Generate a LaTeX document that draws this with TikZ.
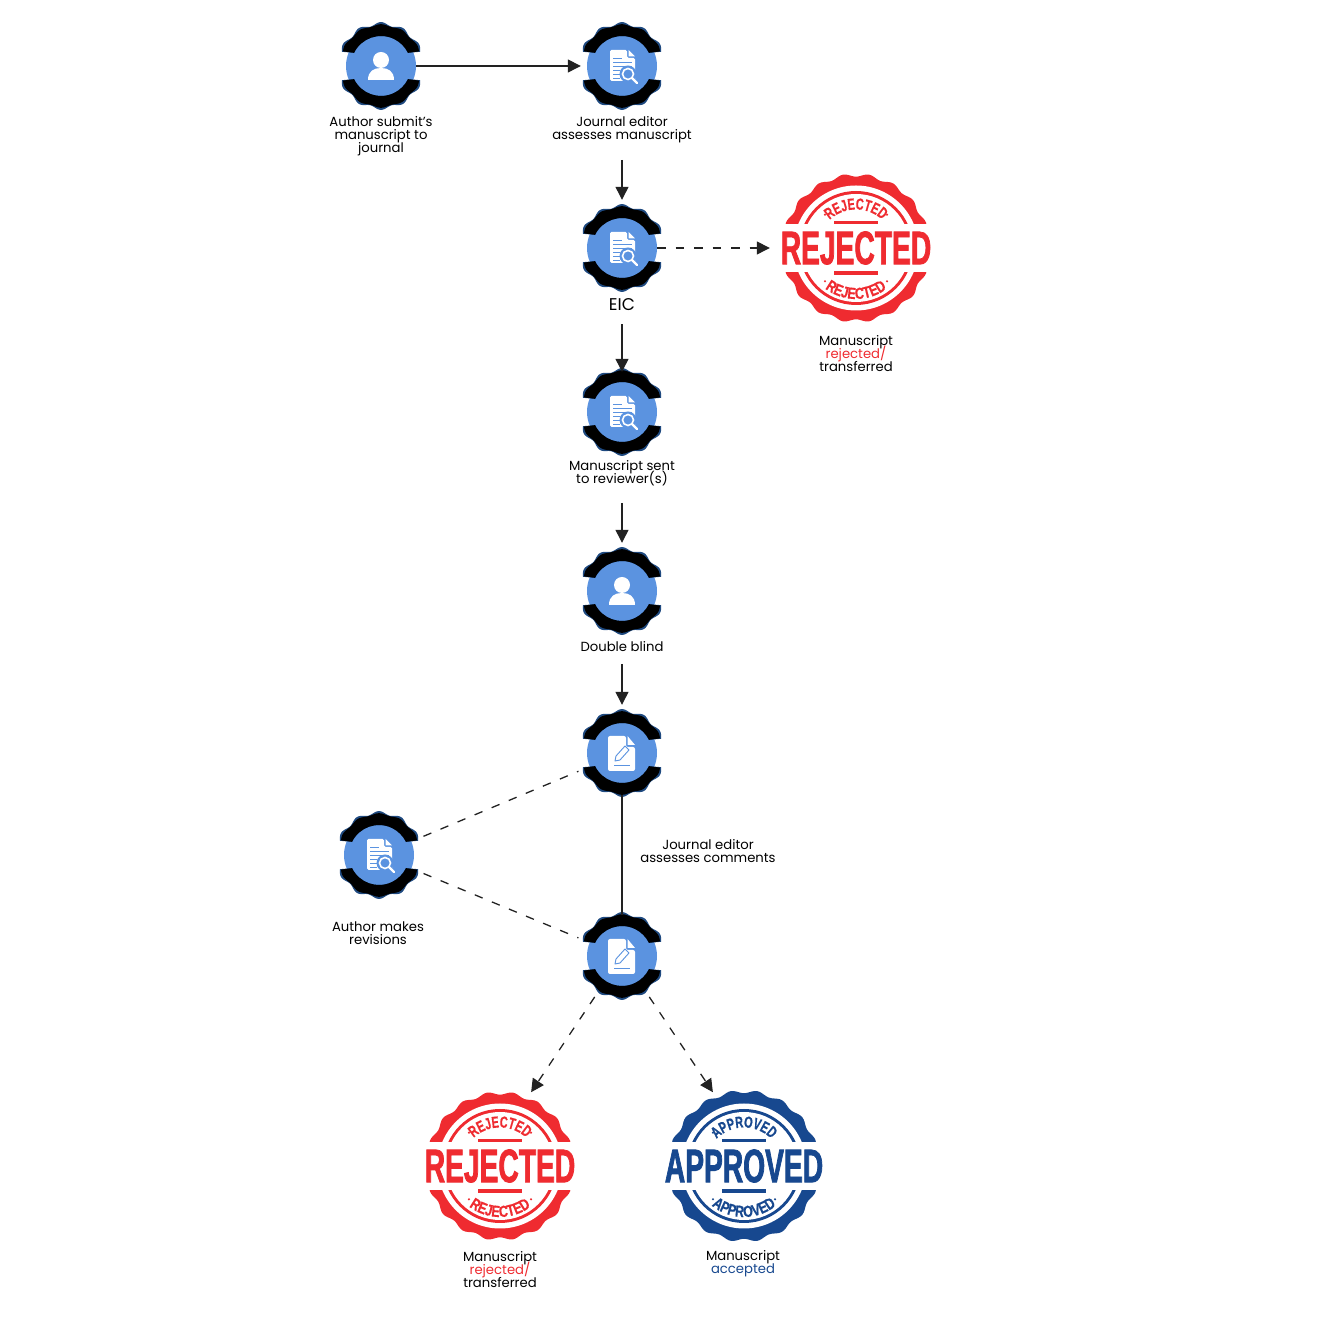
\documentclass[tikz,border=0pt]{standalone}
\usepackage{fontspec}
\usepackage{tikz}
\usetikzlibrary{arrows.meta,decorations.text}

\setmainfont{Poppins}
\newfontfamily\stampfont[FakeStretch=0.6,FakeBold=1.5]{Liberation Sans}
\newfontfamily\stamparc[FakeStretch=0.68,FakeBold=0.5]{Liberation Sans}
\newfontfamily\stamparcb[FakeStretch=0.78,FakeBold=0.5]{Liberation Sans}

\definecolor{badgeblue}{HTML}{5B93E0}
\definecolor{gearnavy}{HTML}{1F4A80}
\definecolor{stampred}{HTML}{EF2B30}
\definecolor{stampblue}{HTML}{17488F}
\definecolor{linegrey}{HTML}{222222}

\lineskiplimit=-20pt

\begin{document}
\begin{tikzpicture}[
  x=1pt,
  y=1pt,
  badge/.style={
      circle,
      fill=badgeblue,
      inner sep=0pt,
      minimum size=70pt
  },
  sealnode/.style={
      circle,
      inner sep=0pt,
      minimum size=148pt
  },
  caption/.style={
      align=center,
      inner sep=0pt,
      font=\fontsize{13.2}{13}\selectfont
  },
  arrow/.style={
      -{Triangle[length=13pt,width=13pt]},
      line width=1.3pt,
      draw=linegrey
  },
  dashline/.style={
      line width=1.3pt,
      draw=linegrey,
      dash pattern=on 8.5pt off 10pt
  },
  pics/gear/.style={
      code={
          \foreach \s in {1,-1} {
              \begin{scope}[yscale=\s]
                  \fill[gearnavy] plot[domain=20:160,samples=71]
                        (\x:{42.3+1.6*cos(12*(\x-90))})
                        -- (154:30) arc[start angle=154, end angle=26, radius=30]
                        -- cycle;
                  \fill[black] plot[domain=21:159,samples=70]
                        (\x:{41+0.8*cos(12*(\x-90))})
                        -- (154:30) arc[start angle=154, end angle=26, radius=30]
                        -- cycle;
              \end{scope}
          }
      }
  },
  pics/personicon/.style={
      code={
          \fill[white] (0,6) circle (8);
          \fill[white] (-13,-14) .. controls (-13,-5) and (-7,-2) .. (0,-2)
                .. controls (7,-2) and (13,-5) .. (13,-14) -- cycle;
      }
  },
  pics/searchicon/.style={
      code={
          \fill[white, rounded corners=1.5pt] (-12,-15) -- (-12,16) -- (5,16)
                -- (5,8) -- (13,8) -- (13,-15) -- cycle;
          \fill[white] (6.5,16) -- (13,9.5) -- (6.5,9.5) -- cycle;
          \foreach \y/\w in {8/9,4/19,0/19,-4/7,-8/7,-12/7} {
              \draw[badgeblue, line width=0.9pt] (-9,\y) -- ++(\w,0);
          }
          \fill[badgeblue] (6,-8) circle (8.5);
          \draw[white, line width=1.6pt] (6,-8) circle (5.5);
          \draw[white, line width=2.2pt, line cap=round] (10,-12) -- (15,-17);
      }
  },
  pics/penicon/.style={
      code={
          \fill[white, rounded corners=2pt] (-14,-18) -- (-14,17) -- (4,17)
                -- (4,6) -- (13,6) -- (13,-18) -- cycle;
          \fill[white] (5.5,17) -- (13,8) -- (5.5,8) -- cycle;
          \draw[badgeblue, line width=0.9pt, line join=round]
                (-7,-8) -- (-6,-3) -- (3,7) -- (7,3) -- (-2,-7) -- cycle;
          \draw[badgeblue, line width=1.2pt] (-8,-12.5) -- (8,-12.5);
      }
  },
  pics/seal/.style n args={3}{
      code={
          % scalloped rim, rings
          \fill[#1] plot[domain=0:360,samples=181]
                (\x:{#3-1.6+1.6*cos(18*\x)}) -- cycle;
          \fill[white] (0,0) circle (62.5);
          \fill[#1] (0,0) circle (57);
          \fill[white] (0,0) circle (54);
          % band for the big word
          \fill[white] (-84,-24) rectangle (84,24);
          \node[inner sep=0pt, text=#1,
                font=\stampfont\bfseries\fontsize{47}{47}\selectfont]
                at (0,0) {#2};
          \fill[#1] (-22,23.5) rectangle (22,27);
          \fill[#1] (-22,-27) rectangle (22,-23.5);
          % curved words
          \path[decorate, decoration={text along path, text align=center,
                text={|\stamparc\bfseries\fontsize{16}{16}\selectfont\color{#1}|#2}}]
                (150:38.5) arc[start angle=150, end angle=30, radius=38.5];
          \path[decorate, decoration={text along path, text align=center,
                text={|\stamparcb\bfseries\fontsize{16}{16}\selectfont\color{#1}|#2}}]
                (210:51) arc[start angle=210, end angle=330, radius=51];
          \foreach \a in {47,133,227,313} {
              \fill[#1] (\a:45.5) circle (1.2);
          }
      }
  }
]

% ==================================================
% Badges
% ==================================================

\node[badge] (author) at (381,1252) {};
\node[badge] (editor) at (622,1252) {};
\node[badge] (eic) at (622,1070) {};
\node[badge] (sent) at (622,906) {};
\node[badge] (blind) at (622,727) {};
\node[badge] (commentsa) at (622,565) {};
\node[badge] (revise) at (379,463) {};
\node[badge] (commentsb) at (622,362) {};

\foreach \name in {author,editor,eic,sent,blind,commentsa,revise,commentsb} {
    \pic at (\name) {gear};
}

% ==================================================
% Icons
% ==================================================

\pic at (author) {personicon};
\pic at (editor) {searchicon};
\pic at (eic) {searchicon};
\pic at (sent) {searchicon};
\pic at (blind) {personicon};
\pic at (commentsa) {penicon};
\pic at (revise) {searchicon};
\pic at (commentsb) {penicon};

% ==================================================
% Seals
% ==================================================

\node[sealnode] (rejecta) at (856,1070) {};
\pic at (rejecta) {seal={stampred}{REJECTED}{74.5}};

\node[sealnode] (rejectb) at (500,152) {};
\pic at (rejectb) {seal={stampred}{REJECTED}{74.5}};

\node[sealnode] (accept) at (744,152) {};
\pic at (accept) {seal={stampblue}{APPROVED}{76}};

% ==================================================
% Captions
% ==================================================

\node[caption] (authorlabel) at (381,1182)
      {Author submit's\\manuscript to\\journal};

\node[caption] (editorlabel) at (622,1188.5)
      {Journal editor\\assesses manuscript};

\node[caption, font=\fontsize{17}{17}\selectfont] (eiclabel) at (622,1013)
      {EIC};

\node[caption] (rejectalabel) at (856,964)
      {Manuscript\\\textcolor{stampred}{rejected/}\\transferred};

\node[caption] (sentlabel) at (622,845)
      {Manuscript sent\\to reviewer(s)};

\node[caption] (blindlabel) at (622,671.5)
      {Double blind};

\node[caption] (commentslabel) at (708,467)
      {Journal editor\\assesses comments};

\node[caption] (reviselabel) at (378,384.5)
      {Author makes\\revisions};

\node[caption] (rejectblabel) at (500,48)
      {Manuscript\\\textcolor{stampred}{rejected/}\\transferred};

\node[caption] (acceptlabel) at (743,54.5)
      {Manuscript\\\textcolor{stampblue}{accepted}};

% ==================================================
% Main Flow
% ==================================================

\draw[arrow, shorten >=6pt]
      (author.east)
      -- (editor.west);

\draw[arrow, shorten <=17pt, shorten >=13pt]
      (editorlabel.south)
      -- (eic.north);

\draw[arrow, shorten <=13pt, shorten >=5pt]
      (eiclabel.south)
      -- (sent.north);

\draw[arrow, shorten <=17pt, shorten >=13pt]
      (sentlabel.south)
      -- (blind.north);

\draw[arrow, shorten <=12pt, shorten >=13pt]
      (blindlabel.south)
      -- (commentsa.north);

\draw[line width=1.3pt, draw=linegrey, shorten <=7pt, shorten >=6pt]
      (commentsa.south)
      -- (commentsb.north);

% ==================================================
% Dashed Flow
% ==================================================

\draw[arrow, dashline, shorten >=12pt]
      (eic.east)
      -- (rejecta.west);

\draw[dashline, shorten <=13pt, shorten >=12pt]
      (revise)
      -- (commentsa);

\draw[dashline, shorten <=13pt, shorten >=12pt]
      (revise)
      -- (commentsb);

\draw[arrow, dashline, shorten <=14pt, shorten >=6pt]
      (commentsb)
      -- (rejectb.68);

\draw[arrow, dashline, shorten <=14pt, shorten >=6pt]
      (commentsb)
      -- (accept.112);

\useasboundingbox (0,0) rectangle (1318,1318);

\end{tikzpicture}
\end{document}
